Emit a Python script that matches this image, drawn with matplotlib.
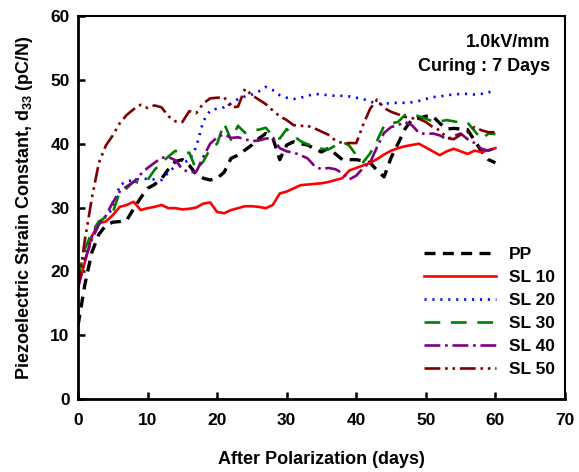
import matplotlib
matplotlib.use("Agg")
import matplotlib.pyplot as plt

plt.rcParams["font.family"] = ["Liberation Sans", "DejaVu Sans"]
plt.rcParams["font.weight"] = "bold"
plt.rcParams["mathtext.fontset"] = "custom"
plt.rcParams["mathtext.rm"] = "Liberation Sans:bold"
plt.rcParams["mathtext.bf"] = "Liberation Sans:bold"
plt.rcParams["mathtext.it"] = "Liberation Sans:bold"

days = list(range(61))

pp = [11.5, 18, 23, 25.8, 27.2, 27.7, 27.8, 28, 29.8, 31.5,
      33, 33.6, 34.5, 36, 37.2, 37.5, 36.6, 35.2, 34.6, 34.3,
      34.6, 35.5, 37.7, 38.2, 39, 39.8, 40.8, 41.6, 40.9, 37.5,
      39.8, 40.3, 40, 39.8, 39.2, 38.7, 39.3, 38.4, 37.5, 37.5,
      37.5, 37.3, 37, 35.8, 34.8, 37.8, 40, 42.3, 43.8, 44,
      44.3, 44.3, 43.2, 42.3, 42.4, 42.3, 42.2, 40.5, 38.8, 37.5,
      37]
sl10 = [17.5, 21.5, 25.5, 27.6, 27.8, 28.8, 30.1, 30.4, 30.9, 29.6,
        29.9, 30.1, 30.4, 29.9, 29.9, 29.7, 29.8, 30, 30.6, 30.8,
        29.3, 29.1, 29.6, 29.9, 30.2, 30.2, 30.1, 29.9, 30.4, 32.2,
        32.5, 33, 33.5, 33.6, 33.7, 33.8, 34, 34.3, 34.6, 35.8,
        36.2, 36.6, 37, 37.6, 38.3, 38.9, 39.3, 39.6, 39.8, 40,
        39.4, 38.8, 38.2, 38.8, 39.2, 38.8, 38.4, 38.9, 38.7, 39,
        39.3]
sl20 = [19.5, 22.5, 25.5, 27.8, 28.6, 29.8, 33.5, 34.1, 34.3, 34.5,
        34.5, 34.4, 34.3, 35.5, 36.5, 37, 37.4, 39.5, 43.5, 45.2,
        45.5, 45.7, 46.3, 47, 47.4, 47.7, 48.2, 48.9, 48.4, 47.6,
        47.2, 47, 47.2, 47.5, 47.8, 47.7, 47.6, 47.5, 47.5, 47.4,
        47.2, 47, 46.6, 46.3, 46.2, 46.4, 46.4, 46.4, 46.5, 46.7,
        47, 47.3, 47.4, 47.6, 47.7, 47.8, 47.8, 47.7, 47.8, 48.1,
        47.9]
sl30 = [19, 23.5, 26.2, 27.8, 28.5, 29.2, 32.5, 33, 34.1, 33.8,
        34.3, 35.9, 37, 38, 38.9, 38.4, 38.6, 35.9, 37.2, 39.2,
        40, 43.2, 40.6, 42.8, 41.7, 42.1, 42.2, 42.5, 41.2, 40.8,
        42.3, 41.2, 40.4, 39.9, 39.6, 39.2, 39.1, 39.7, 40.3, 39.7,
        38.2, 37.1, 38.5, 40.5, 42.8, 43.2, 43.4, 44.5, 44.6, 44.3,
        43.9, 43.5, 43.5, 43.7, 43.5, 43.3, 43.3, 42, 40.7, 41.6,
        41.5]
sl40 = [17.4, 21.8, 25, 27.3, 28.7, 30.8, 32.5, 33.3, 34, 35.2,
        36.2, 37, 37.8, 37.9, 37.4, 36, 35.5, 35.6, 37.9, 40,
        41, 41.5, 40.9, 41, 40.7, 40.4, 40.5, 40.8, 40.9, 39.3,
        38.8, 38.6, 38.2, 37.7, 36.5, 36, 36.2, 36, 35.4, 34.4,
        35, 36.2, 37.1, 39.5, 41.7, 42.6, 42.9, 43.4, 42.9, 41.7,
        41.5, 41.6, 41.3, 40.7, 41.2, 41.6, 40.7, 40.1, 39.2, 38.9,
        39.3]
sl50 = [17.5, 25, 31.5, 37, 39.7, 41.3, 43.2, 44.5, 45.4, 46.1,
        45.6, 46, 45.7, 44.3, 43.5, 43.4, 45.1, 44.8, 46.3, 47.1,
        47.2, 47.3, 45.7, 45.8, 48.6, 47.6, 46.9, 46.2, 45.2, 44.3,
        43.7, 42.9, 42.8, 42.8, 42.4, 41.9, 41.4, 40.5, 40.1, 40.1,
        40.1, 43, 45.5, 46.9, 45.6, 45, 44.6, 44.2, 44, 43.9,
        43.4, 42.6, 42.1, 40.9, 40.7, 41.4, 41.8, 42.6, 42.1, 41.8,
        41.8]

labels = ["PP", "SL 10", "SL 20", "SL 30", "SL 40", "SL 50"]

fig = plt.figure(figsize=(5.79, 4.72), dpi=100)
ax = fig.add_axes([0.1347, 0.1547, 0.8411, 0.8113])

ax.plot(days, pp, color="black", lw=2.4, dashes=(3.3, 2.2), label=labels[0])
ax.plot(days, sl10, color="#ff0000", lw=1.9, label=labels[1])
ax.plot(days, sl20, color="#0000ff", lw=1.9, dashes=(0.8, 2.2), label=labels[2])
ax.plot(days, sl30, color="#008000", lw=1.9, dashes=(6, 4), label=labels[3])
ax.plot(days, sl40, color="#800080", lw=1.9, dashes=(6, 1.8, 1, 1.8), label=labels[4])
ax.plot(days, sl50, color="#800000", lw=1.9, dashes=(6, 1.8, 1, 1.8, 1, 1.8), label=labels[5])

ax.set_xlim(0, 70)
ax.set_ylim(0, 60)
ax.set_xticks(range(0, 71, 10))
ax.set_yticks(range(0, 61, 10))
ax.tick_params(direction="in", length=5, width=1.8, labelsize=12.5)
ax.tick_params(axis="x", pad=10)
ax.tick_params(axis="y", pad=6)
for side in ("left", "bottom"):
    ax.spines[side].set_linewidth(2)
for side in ("top", "right"):
    ax.spines[side].set_linewidth(1.5)
for lab in ax.get_xticklabels() + ax.get_yticklabels():
    lab.set_fontweight("bold")

ax.set_xlabel("After Polarization (days)", fontsize=13, fontweight="bold", labelpad=17)
ax.set_ylabel("Piezoelectric Strain Constant, d$_{33}$ (pC/N)", fontsize=13,
              fontweight="bold", labelpad=11)

ax.text(0.969, 0.932, "1.0kV/mm", transform=ax.transAxes, ha="right", va="center",
        fontsize=13, fontweight="bold")
ax.text(0.969, 0.869, "Curing : 7 Days", transform=ax.transAxes, ha="right", va="center",
        fontsize=13, fontweight="bold")

leg = ax.legend(loc="lower right", bbox_to_anchor=(1.012, 0.0165), frameon=False,
                fontsize=12.5, handlelength=4.15, handletextpad=0.75, labelspacing=0.45)
for t in leg.get_texts():
    t.set_fontweight("bold")

fig.savefig("out.png", dpi=100)
